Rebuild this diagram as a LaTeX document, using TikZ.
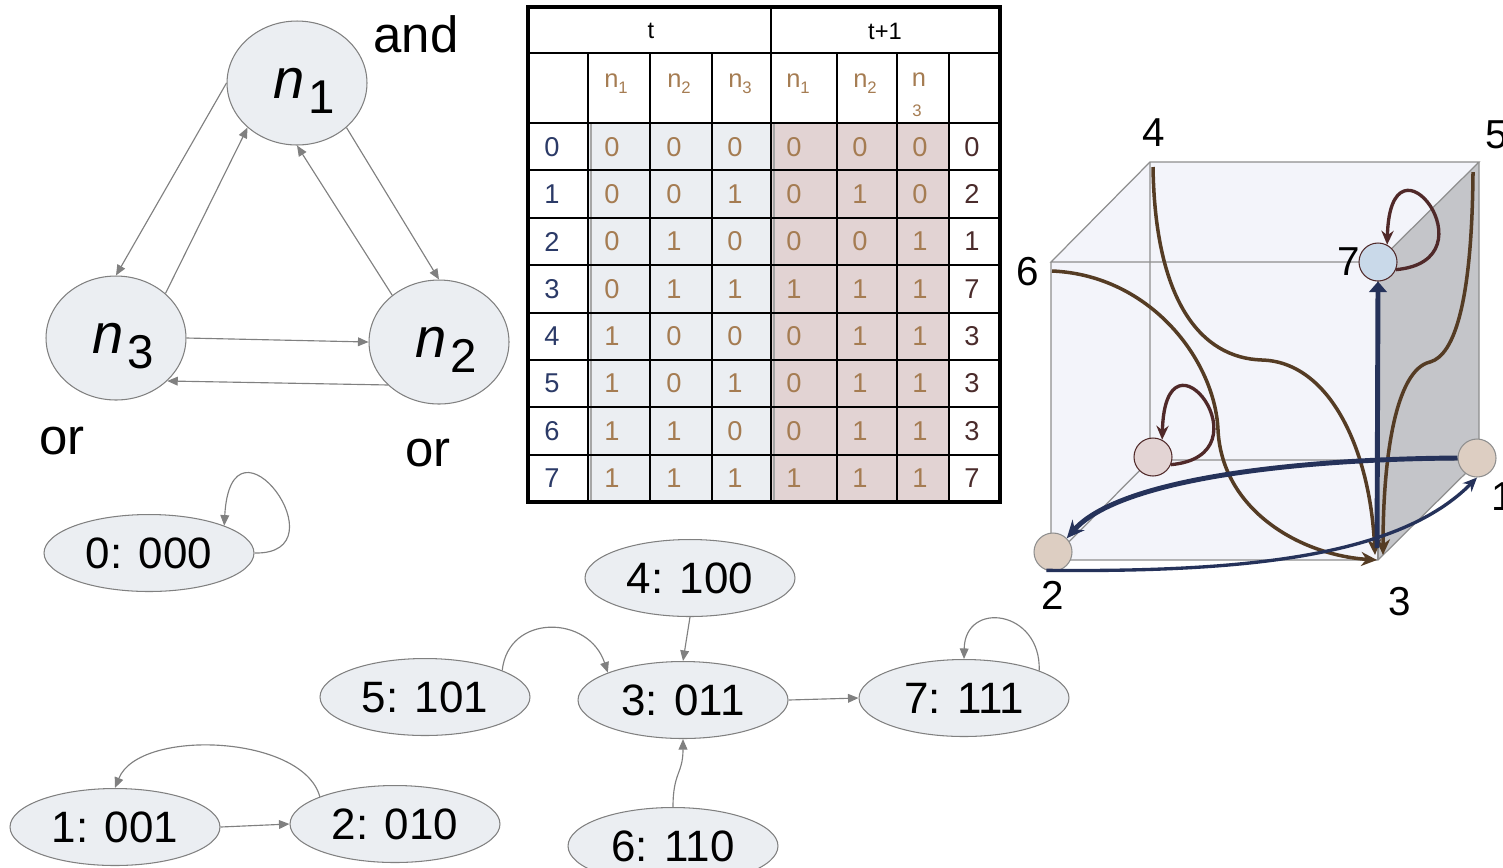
\documentclass[tikz,border=0pt]{standalone}
\usepackage{xcolor}
\usepackage{fontspec}
\setmainfont{Liberation Sans}
\usepackage{tikz}
\usetikzlibrary{arrows.meta,shapes.geometric}

\definecolor{nodefill}{HTML}{EBEEF2}
\definecolor{nodeline}{HTML}{808080}
\definecolor{tblue}{HTML}{EBEEF2}
\definecolor{tpink}{HTML}{E2D3D3}
\definecolor{idxcol}{HTML}{2B3A67}
\definecolor{bitcol}{HTML}{A57C52}
\definecolor{nextcol}{HTML}{4A2B2B}
\definecolor{cubefill}{HTML}{F3F4FA}
\definecolor{cubeside}{HTML}{C4C5C9}
\definecolor{cubeedge}{HTML}{8E8E8E}
\definecolor{brownarr}{HTML}{553C24}
\definecolor{navyarr}{HTML}{25325A}
\definecolor{looparr}{HTML}{502929}
\definecolor{vblue}{HTML}{C9D9E9}
\definecolor{vpink}{HTML}{E3D4D4}
\definecolor{vbeige}{HTML}{DDCEC2}

\newcommand{\nsub}[1]{\kern8pt{\fontsize{32}{32}\selectfont\itshape n}\kern2.5pt\raisebox{-8.5pt}[0pt][0pt]{\fontsize{27}{27}\selectfont #1}}
\newcommand{\hn}[1]{n\raisebox{-3.5pt}{\fontsize{9.5}{9.5}\selectfont #1}}

\begin{document}
\begin{tikzpicture}[x=0.02cm,y=-0.02cm,
  varnode/.style={ellipse,draw=nodeline,fill=nodefill,line width=0.6pt,minimum width=2.8cm,minimum height=2.48cm,inner sep=0pt},
  stnode/.style={ellipse,draw=nodeline,fill=nodefill,line width=0.6pt,minimum width=4.2cm,minimum height=1.54cm,inner sep=0pt,font=\fontsize{25}{25}\selectfont},
  garrow/.style={draw=nodeline,line width=0.65pt,-{Triangle[length=6pt,width=5pt]}},
  wordlbl/.style={font=\fontsize{29}{29}\selectfont},
  hdr/.style={font=\fontsize{13.5}{13.5}\selectfont},
  hnlbl/.style={text=bitcol,font=\fontsize{14.5}{14.5}\selectfont},
  idx/.style={text=idxcol,font=\fontsize{15.5}{15.5}\selectfont},
  bit/.style={text=bitcol,font=\fontsize{15.5}{15.5}\selectfont},
  nxt/.style={text=nextcol,font=\fontsize{15.5}{15.5}\selectfont},
  tline/.style={line width=1.1pt},
  tframe/.style={line width=2.3pt},
  cubeline/.style={draw=cubeedge,line width=0.7pt},
  vertex/.style={circle,minimum size=0.76cm,inner sep=0pt,line width=0.6pt},
  vlabel/.style={font=\fontsize{23}{23}\selectfont},
  brownarrow/.style={draw=brownarr,line width=2pt,-{Stealth[length=9pt,width=8pt]}},
  navythick/.style={draw=navyarr,line width=2.8pt,-{Stealth[length=10pt,width=9pt]}},
  navythin/.style={draw=navyarr,line width=1.9pt,-{Stealth[length=8pt,width=7pt]}},
  navymid/.style={draw=navyarr,line width=2.8pt,-{Triangle[length=6pt,width=10pt]}},
  selfloop/.style={draw=looparr,line width=1.9pt,-{Stealth[length=8pt,width=7pt]}}
]
\useasboundingbox (0,0) rectangle (1503,867);

% the network
\node[varnode] (n1) at (297,83) {\nsub{1}};
\node[varnode] (n3) at (116,338) {\nsub{3}};
\node[varnode] (n2) at (439,342) {\nsub{2}};
\draw[garrow] (n1.west) -- (n3.north);
\draw[garrow] (n3.42) -- (n1.222);
\draw[garrow] (n1.318) -- (n2.north);
\draw[garrow] (n2.135) -- (n1.south);
\draw[garrow] (n3.east) -- (n2.west);
\draw[garrow] (n2.220) -- (n3.320);
\node[wordlbl] (andn1) at (416,34) {and};
\node[wordlbl] (orn3) at (62,441) {or};
\node[wordlbl] (orn2) at (428,453) {or};

% state transition graph
\node[stnode] (s0) at (149,553) {0: 000};
\node[stnode] (s1) at (115,827) {1: 001};
\node[stnode] (s2) at (395,824) {2: 010};
\node[stnode] (s5) at (425,697) {5: 101};
\node[stnode] (s4) at (690,578) {4: 100};
\node[stnode] (s3) at (683,700) {3: 011};
\node[stnode] (s7) at (964,698) {7: 111};
\node[stnode] (s6) at (673,846) {6: 110};
\draw[garrow] (s0.east) .. controls +(91,2) and +(7,-126) .. (s0.20);
\draw[garrow] (s1.east) -- (s2.west);
\draw[garrow] (s2.160) .. controls +(-17,-62) and +(24,-60) .. (s1.north);
\draw[garrow] (s5.19) .. controls +(6,-57) and +(-19,-58) .. (s3.160);
\draw[garrow] (s4.south) -- (s3.north);
\draw[garrow] (s6.north) .. controls +(0,-35) and +(0,35) .. (s3.south);
\draw[garrow] (s3.east) -- (s7.west);
\draw[garrow] (s7.20) .. controls +(2,-61) and +(1,-59) .. (s7.north);

% truth table
\fill[tblue] (588,123) rectangle (771,502);
\fill[tpink] (771,123) rectangle (949,502);
\draw[gray!70, line width=1.3pt] (591,123) -- (591,502);
\draw[gray!70, line width=1.3pt] (774,123) -- (774,502);
\foreach \y in {53,123,170,218,265,313,360,407,455}
{
\draw[tline] (528,\y) -- (1000,\y);
}
\foreach \x in {588,650,712,837,897,949}
{
\draw[tline] (\x,53) -- (\x,502);
}
\draw[tline] (771,7) -- (771,502);
\draw[tframe] (528,7) rectangle (1000,502);
\node[hdr] (tnow) at (651,31) {t};
\node[hdr] (tnext) at (885,31) {t+1};
\node[hnlbl] (h1) at (616,84) {\hn{1}};
\node[hnlbl] (h2) at (679,84) {\hn{2}};
\node[hnlbl] (h3) at (740,84) {\hn{3}};
\node[hnlbl] (h4) at (798,84) {\hn{1}};
\node[hnlbl] (h5) at (865,84) {\hn{2}};
\node[hnlbl] (h6) at (919,80) {n};
\node[text=bitcol,font=\fontsize{9.5}{9.5}\selectfont] (h6b) at (917,111) {3};
\foreach \r/\a/\b/\c/\d/\e/\f/\g in {0/0/0/0/0/0/0/0,1/0/0/1/0/1/0/2,2/0/1/0/0/0/1/1,3/0/1/1/1/1/1/7,4/1/0/0/0/1/1/3,5/1/0/1/0/1/1/3,6/1/1/0/0/1/1/3,7/1/1/1/1/1/1/7}
{
\pgfmathsetmacro{\yy}{147+47.3*\r}
\node[idx] (row\r) at (552,\yy) {\r};
\node[bit] (ta\r) at (612,\yy) {\a};
\node[bit] (tb\r) at (674,\yy) {\b};
\node[bit] (tc\r) at (735,\yy) {\c};
\node[bit] (na\r) at (794,\yy) {\d};
\node[bit] (nb\r) at (860,\yy) {\e};
\node[bit] (nc\r) at (920,\yy) {\f};
\node[nxt] (nx\r) at (972,\yy) {\g};
}

% state cube
\coordinate (c0) at (1150,460);
\coordinate (c1) at (1479,460);
\coordinate (c2) at (1051,560);
\coordinate (c3) at (1378,560);
\coordinate (c4) at (1150,162);
\coordinate (c5) at (1479,162);
\coordinate (c6) at (1051,262);
\coordinate (c7) at (1378,262);
\fill[cubefill] (c6) -- (c4) -- (c5) -- (c1) -- (c3) -- (c2) -- cycle;
\fill[cubeside] (c7) -- (c5) -- (c1) -- (c3) -- cycle;
\draw[cubeline] (c0) -- (c1) (c0) -- (c4) (c0) -- (c2);
\draw[cubeline] (c4) -- (c5) -- (c7) -- (c6) -- cycle;
\draw[cubeline] (c6) -- (c2) -- (c3) -- (c1) -- (c5);
\draw[cubeline] (c7) -- (c3);
\node[vertex,fill=vpink,draw=looparr] (v0) at (1153,457) {};
\node[vertex,fill=vbeige,draw=cubeedge] (v1) at (1477,458) {};
\node[vertex,fill=vbeige,draw=cubeedge] (v2) at (1053,552) {};
\node[vertex,fill=vblue,draw=looparr] (v7) at (1378,262) {};
\node[vlabel] (l4) at (1154,133) {4};
\node[vlabel] (l5) at (1497,135) {5};
\node[vlabel] (l6) at (1028,272) {6};
\node[vlabel] (l7) at (1349,262) {7};
\node[vlabel] (l1) at (1503,497) {1};
\node[vlabel] (l2) at (1053,595) {2};
\node[vlabel] (l3) at (1400,602) {3};
%transitions towards 3
\coordinate (a4) at (1153,167);
\coordinate (a5) at (1473,172);
\coordinate (a6) at (1052,271);
\coordinate (t4) at (1375,555);
\coordinate (t5) at (1383,555);
\coordinate (t6) at (1377,560);
\draw[brownarrow] (a4) .. controls (1155,300) and (1200,358) .. (1262,360) .. controls (1330,362) and (1370,450) .. (t4);
\draw[brownarrow] (a5) .. controls (1472,300) and (1455,355) .. (1430,362) .. controls (1395,370) and (1383,460) .. (t5);
\draw[brownarrow] (a6) .. controls (1150,275) and (1215,360) .. (1218,430) .. controls (1222,510) and (1300,555) .. (t6);
\coordinate (a3) at (1377,548);
\draw[navymid] (a3) -- (v7.south);
\draw[navythick] (v1.west) .. controls +(-158,1) and +(53,-60) .. (v2.north east);
\draw[navythin] (v2.250) .. controls +(204,2) and +(-77,78) .. (v1.south);
\draw[selfloop] (v7.-23) .. controls +(100,-9) and +(3,-125) .. (v7.62);
\draw[selfloop] (v0.-23) .. controls +(100,-9) and +(3,-125) .. (v0.62);
\end{tikzpicture}
\end{document}
